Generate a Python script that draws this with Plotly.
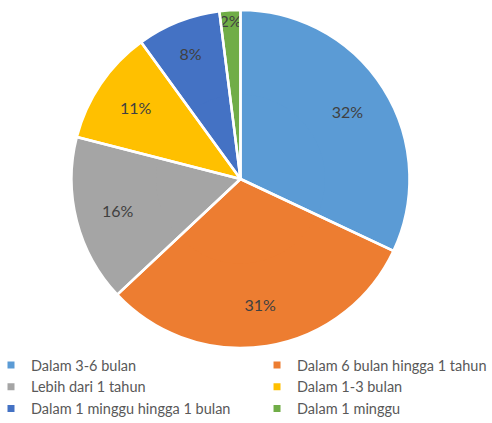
import plotly.graph_objects as go

categories = ["Dalam 3-6 bulan", "Dalam 6 bulan hingga 1 tahun", "Lebih dari 1 tahun",
              "Dalam 1-3 bulan", "Dalam 1 minggu hingga 1 bulan", "Dalam 1 minggu"]
values = [32, 31, 16, 11, 8, 2]
colors = ["#5B9BD5", "#ED7D31", "#A5A5A5", "#FFC000", "#4472C4", "#70AD47"]

W, H = 492, 423
cx, cy, r = 240.5, 179, 169
domain = dict(x=[(cx - r) / W, (cx + r) / W], y=[1 - (cy + r) / H, 1 - (cy - r) / H])
FONT = "Lato, Carlito, sans-serif"

common = dict(sort=False, direction="clockwise", rotation=0, domain=domain)

fig = go.Figure()
# legend carriers (two columns), drawn first and fully covered by the main pie
for lg, sl in (("legend", slice(0, None, 2)), ("legend2", slice(1, None, 2))):
    fig.add_trace(go.Pie(**common, labels=categories[sl], values=values[sl],
                         marker=dict(colors=colors[sl], line=dict(color="white", width=5)),
                         textinfo="none", hoverinfo="skip", showlegend=True, legend=lg))
# full pie (fills)
fig.add_trace(go.Pie(**common, labels=categories, values=values,
                     marker=dict(colors=colors, line=dict(width=0)),
                     textinfo="none", hoverinfo="label+percent", showlegend=False))
# ring carrying the labels (pushes labels outward like the original)
fig.add_trace(go.Pie(**common, labels=categories, values=values, hole=0.5,
                     marker=dict(colors=colors, line=dict(width=0)),
                     texttemplate="%{percent:.0%}", textposition="inside",
                     insidetextorientation="horizontal",
                     textfont=dict(family=FONT, size=16, color="#404040"),
                     hoverinfo="label+percent", showlegend=False))
# white separators on top
fig.add_trace(go.Pie(**common, labels=categories, values=values,
                     marker=dict(colors=["rgba(0,0,0,0)"] * len(values),
                                 line=dict(color="white", width=2.5)),
                     textinfo="none", hoverinfo="skip", showlegend=False))

legend_font = dict(family=FONT, size=14.5, color="#595959")
fig.update_layout(
    width=W, height=H, margin=dict(l=0, r=0, t=0, b=0, autoexpand=False),
    paper_bgcolor="white", plot_bgcolor="white",
    uniformtext=dict(minsize=16, mode="show"),
    legend=dict(orientation="v", x=-0.0183, xanchor="left", y=0.175, yanchor="top",
                traceorder="normal", font=legend_font, bgcolor="rgba(0,0,0,0)"),
    legend2=dict(orientation="v", x=0.5224, xanchor="left", y=0.175, yanchor="top",
                 traceorder="normal", font=legend_font, bgcolor="rgba(0,0,0,0)"),
)
fig.write_html("out.html", config={"displayModeBar": False},
               post_script="document.body.style.margin='0';")
